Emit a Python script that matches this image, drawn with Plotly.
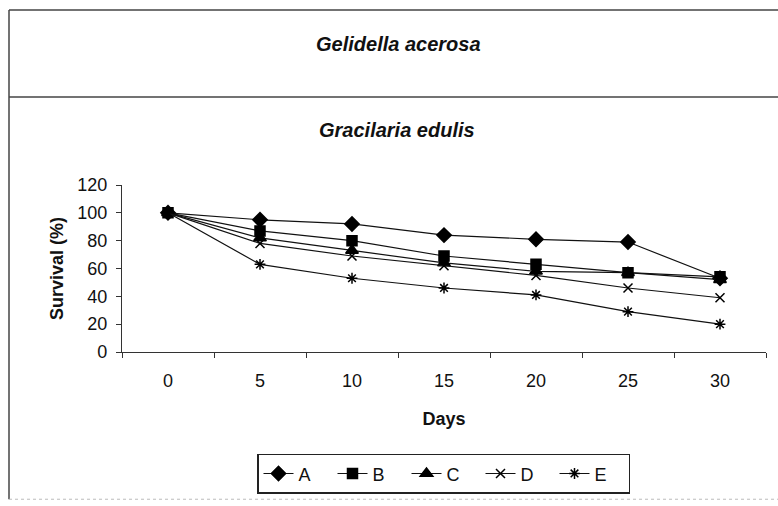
import plotly.graph_objects as go

days = ["0", "5", "10", "15", "20", "25", "30"]
series_names = ["A", "B", "C", "D", "E"]
survival_A = [100, 95, 92, 84, 81, 79, 53]
survival_B = [100, 87, 80, 69, 63, 57, 54]
survival_C = [100, 82, 73, 64, 58, 57, 52]
survival_D = [100, 78, 69, 62, 55, 46, 39]
survival_E = [100, 63, 53, 46, 41, 29, 20]
y_ticks = [0, 20, 40, 60, 80, 100, 120]

values = [survival_A, survival_B, survival_C, survival_D, survival_E]
symbols = ["diamond", "square", "triangle-up", "x-thin-open", "asterisk-open"]
sizes = [11, 10, 11, 9, 9]

W, H = 778, 506
L, R, T, B = 122, 766, 185, 354
FONT = "Liberation Sans, Arial, sans-serif"

def px(x):
    return (x - L) / (R - L)

def py(y):
    return (B - y) / (B - T)

fig = go.Figure()
for name, vals, sym, sz in zip(series_names, values, symbols, sizes):
    fig.add_trace(go.Scatter(
        x=days, y=vals, name=name, mode="lines+markers",
        line=dict(color="#111111", width=1.2),
        marker=dict(symbol=sym, size=sz, color="#000000",
                    line=dict(color="#000000", width=1.5)),
    ))

fig.update_layout(
    width=W, height=H, autosize=False,
    margin=dict(l=L, r=W - R, t=T, b=H - B, pad=0),
    paper_bgcolor="white", plot_bgcolor="white",
    font=dict(family=FONT, size=18, color="#111111"),
    showlegend=True,
    legend=dict(
        orientation="h", x=px(257), y=py(457), xanchor="left", yanchor="top",
        bordercolor="#222222", borderwidth=1.5, bgcolor="white",
        font=dict(family=FONT, size=18, color="#111111"),
        entrywidth=29, entrywidthmode="pixels", itemwidth=30,
        tracegroupgap=0,
    ),
    xaxis=dict(
        type="category", categoryorder="array", categoryarray=days,
        range=[-0.5, 6.5], tickson="boundaries",
        showline=True, linecolor="#333333", linewidth=1.2,
        ticks="outside", ticklen=5, tickcolor="#333333",
        showgrid=False, zeroline=False, ticklabelstandoff=12,
        tickfont=dict(family=FONT, size=18, color="#111111"),
        title=dict(text="<b>Days</b>", standoff=22,
                   font=dict(family=FONT, size=18, color="#111111")),
    ),
    yaxis=dict(
        range=[0, 120], tickvals=y_ticks,
        showline=True, linecolor="#333333", linewidth=1.2,
        ticks="outside", ticklen=5, tickcolor="#333333",
        showgrid=False, zeroline=False, ticklabelstandoff=5,
        tickfont=dict(family=FONT, size=18, color="#111111"),
        title=dict(text="<b>Survival (%)</b>", standoff=8,
                   font=dict(family=FONT, size=18, color="#111111")),
    ),
)

fig.add_annotation(text="<b><i>Gracilaria edulis</i></b>", x=px(397), y=py(129),
                   xref="paper", yref="paper", showarrow=False,
                   xanchor="center", yanchor="middle",
                   font=dict(family=FONT, size=20, color="#111111"))
fig.add_annotation(text="<b><i>Gelidella acerosa</i></b>", x=px(398), y=py(42),
                   xref="paper", yref="paper", showarrow=False,
                   xanchor="center", yanchor="middle",
                   font=dict(family=FONT, size=20, color="#111111"))

frame = dict(color="#444444", width=1.5)
fig.add_shape(type="line", xref="paper", yref="paper",
              x0=px(9), x1=px(9), y0=py(8), y1=py(503), line=frame)
fig.add_shape(type="line", xref="paper", yref="paper",
              x0=px(9), x1=px(778), y0=py(8), y1=py(8), line=frame)
fig.add_shape(type="line", xref="paper", yref="paper",
              x0=px(9), x1=px(778), y0=py(96), y1=py(96), line=frame)
fig.add_shape(type="line", xref="paper", yref="paper",
              x0=px(9), x1=px(778), y0=py(503), y1=py(503),
              line=dict(color="#bbbbbb", width=1, dash="dot"))

fig.write_html("out.html")
